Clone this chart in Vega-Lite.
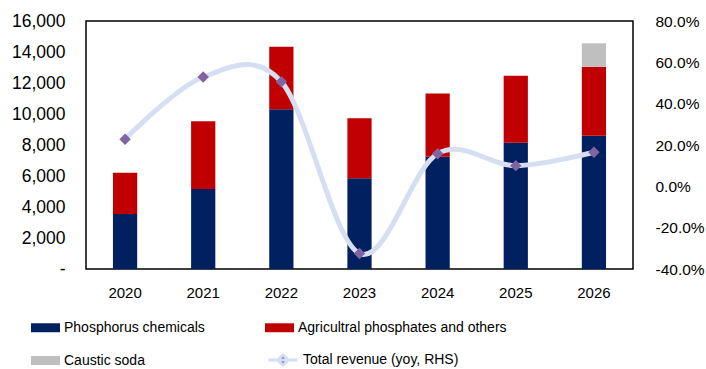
{
  "$schema": "https://vega.github.io/schema/vega-lite/v6.json",
  "width": 547,
  "height": 248,
  "autosize": {"type": "none"},
  "padding": {"left": 86, "top": 21, "right": 73, "bottom": 100},
  "background": "white",
  "config": {
    "font": "Liberation Sans",
    "view": {"stroke": "#000000", "strokeWidth": 1.5},
    "axis": {"grid": false, "ticks": false, "domain": false, "labelColor": "#000000", "title": null},
    "axisX": {"labelAngle": 0, "labelFontSize": 15, "labelPadding": 16},
    "legend": {"padding": 0}
  },
  "datasets": {
    "revenue": [
      {"year": "2020", "series": "Phosphorus chemicals", "value": 3550},
      {"year": "2020", "series": "Agricultral phosphates and others", "value": 2660},
      {"year": "2021", "series": "Phosphorus chemicals", "value": 5160},
      {"year": "2021", "series": "Agricultral phosphates and others", "value": 4370},
      {"year": "2022", "series": "Phosphorus chemicals", "value": 10300},
      {"year": "2022", "series": "Agricultral phosphates and others", "value": 4040},
      {"year": "2023", "series": "Phosphorus chemicals", "value": 5850},
      {"year": "2023", "series": "Agricultral phosphates and others", "value": 3870},
      {"year": "2024", "series": "Phosphorus chemicals", "value": 7250},
      {"year": "2024", "series": "Agricultral phosphates and others", "value": 4080},
      {"year": "2025", "series": "Phosphorus chemicals", "value": 8150},
      {"year": "2025", "series": "Agricultral phosphates and others", "value": 4320},
      {"year": "2026", "series": "Phosphorus chemicals", "value": 8600},
      {"year": "2026", "series": "Agricultral phosphates and others", "value": 4450},
      {"year": "2026", "series": "Caustic soda", "value": 1510}
    ],
    "growth": [
      {"year": "2020", "series": "Total revenue (yoy, RHS)", "yoy": 0.228},
      {"year": "2021", "series": "Total revenue (yoy, RHS)", "yoy": 0.529},
      {"year": "2022", "series": "Total revenue (yoy, RHS)", "yoy": 0.506},
      {"year": "2023", "series": "Total revenue (yoy, RHS)", "yoy": -0.325},
      {"year": "2024", "series": "Total revenue (yoy, RHS)", "yoy": 0.158},
      {"year": "2025", "series": "Total revenue (yoy, RHS)", "yoy": 0.1},
      {"year": "2026", "series": "Total revenue (yoy, RHS)", "yoy": 0.165}
    ]
  },
  "encoding": {
    "x": {
      "field": "year",
      "type": "ordinal",
      "scale": {"paddingInner": 0.69, "paddingOuter": 0.345}
    }
  },
  "layer": [
    {
      "data": {"name": "revenue"},
      "transform": [
        {"calculate": "indexof(['Phosphorus chemicals', 'Agricultral phosphates and others', 'Caustic soda'], datum.series)", "as": "stackOrder"}
      ],
      "mark": {"type": "bar"},
      "encoding": {
        "y": {
          "field": "value",
          "type": "quantitative",
          "stack": "zero",
          "scale": {"domain": [0, 16000], "nice": false},
          "axis": {
            "orient": "left",
            "values": [0, 2000, 4000, 6000, 8000, 10000, 12000, 14000, 16000],
            "labelExpr": "datum.value == 0 ? '-' : format(datum.value, ',')",
            "labelFontSize": 17.5,
            "labelPadding": 21
          }
        },
        "order": {"field": "stackOrder", "type": "quantitative", "sort": "ascending"},
        "color": {
          "field": "series",
          "type": "nominal",
          "sort": ["Phosphorus chemicals", "Agricultral phosphates and others", "Caustic soda"],
          "scale": {
            "domain": ["Phosphorus chemicals", "Agricultral phosphates and others", "Caustic soda"],
            "range": ["#002060", "#c00000", "#bfbfbf"]
          },
          "legend": {
            "title": null,
            "orient": "none",
            "legendX": -55,
            "legendY": 292,
            "direction": "horizontal",
            "columns": 2,
            "columnPadding": 60,
            "rowPadding": 11,
            "symbolType": "M-1,-0.31H1V0.31H-1Z",
            "symbolSize": 841,
            "symbolStrokeWidth": 0,
            "labelFontSize": 14,
            "labelColor": "#000000",
            "labelLimit": 400
          }
        }
      }
    },
    {
      "data": {"name": "growth"},
      "layer": [
        {
          "mark": {"type": "line", "interpolate": "cardinal", "tension": 0, "color": "#d6def1", "strokeWidth": 5},
          "encoding": {
            "y": {"field": "yoy", "type": "quantitative"}
          }
        },
        {
          "mark": {"type": "point", "shape": "diamond", "filled": true, "size": 130, "opacity": 1},
          "encoding": {
            "y": {"field": "yoy", "type": "quantitative"},
            "color": {
              "field": "series",
              "type": "nominal",
              "scale": {"domain": ["Total revenue (yoy, RHS)"], "range": ["#8064a2"]},
              "legend": {
                "title": null,
                "orient": "none",
                "legendX": 181,
                "legendY": 323,
                "symbolType": "M-1,0H1M0,-0.36L0.36,0L0,0.36L-0.36,0Z",
                "symbolSize": 841,
                "symbolStrokeColor": "#d6def1",
                "symbolStrokeWidth": 3,
                "symbolFillColor": "#8064a2",
                "labelFontSize": 14,
                "labelColor": "#000000",
                "labelLimit": 400
              }
            }
          }
        }
      ],
      "encoding": {
        "y": {
          "field": "yoy",
          "type": "quantitative",
          "scale": {"domain": [-0.4, 0.8], "nice": false},
          "axis": {
            "orient": "right",
            "values": [-0.4, -0.2, 0, 0.2, 0.4, 0.6, 0.8],
            "labelExpr": "replace(format(datum.value, '.1%'), '\u2212', '-')",
            "labelFontSize": 15.5,
            "labelPadding": 22
          }
        }
      }
    }
  ],
  "resolve": {"scale": {"y": "independent", "color": "independent"}}
}
